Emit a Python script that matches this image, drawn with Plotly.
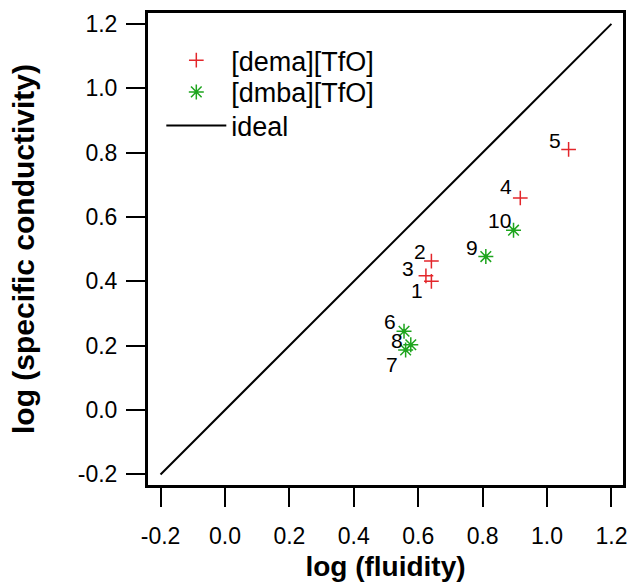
import plotly.graph_objects as go

# [dema][TfO] samples 1-5
dema_ids = ["1", "2", "3", "4", "5"]
dema_fluidity = [0.641, 0.641, 0.624, 0.917, 1.067]
dema_conductivity = [0.400, 0.463, 0.417, 0.659, 0.810]

# [dmba][TfO] samples 6-10
dmba_ids = ["6", "7", "8", "9", "10"]
dmba_fluidity = [0.556, 0.561, 0.577, 0.810, 0.896]
dmba_conductivity = [0.245, 0.187, 0.203, 0.477, 0.559]

# ideal Walden line (slope 1)
ideal_x = [-0.2, 1.2]
ideal_y = [-0.2, 1.2]

tick_vals = [-0.2, 0.0, 0.2, 0.4, 0.6, 0.8, 1.0, 1.2]
tick_text = ["-0.2", "0.0", "0.2", "0.4", "0.6", "0.8", "1.0", "1.2"]

RED = "#e3262b"
GREEN = "#1ea51e"
FONT = "Liberation Sans, Arial, sans-serif"

# label placement relative to each marker, in screen pixels (dx right, dy down)
label_offsets = {
    "1": (-14, 9), "2": (-11, -10), "3": (-18, -7), "4": (-14, -12),
    "5": (-14, -9), "6": (-14, -10), "7": (-14, 15), "8": (-14, -4),
    "9": (-14, -9), "10": (-14, -10),
}

fig = go.Figure()

fig.add_trace(go.Scatter(
    x=dema_fluidity, y=dema_conductivity, mode="markers", name="[dema][TfO]",
    legend="legend",
    marker=dict(symbol="cross-thin", size=10.5, line=dict(color=RED, width=1.5), color=RED),
))
fig.add_trace(go.Scatter(
    x=dmba_fluidity, y=dmba_conductivity, mode="markers", name="[dmba][TfO]",
    legend="legend2",
    marker=dict(symbol="asterisk", size=12.5, line=dict(color=GREEN, width=1.5), color=GREEN),
))
# small dot at the centre of each asterisk
fig.add_trace(go.Scatter(
    x=dmba_fluidity, y=dmba_conductivity, mode="markers", showlegend=False,
    marker=dict(symbol="circle", size=4, color=GREEN), hoverinfo="skip",
))
fig.add_trace(go.Scatter(
    x=ideal_x, y=ideal_y, mode="lines", name="ideal",
    legend="legend3",
    line=dict(color="black", width=2),
))

for ids, xs, ys in ((dema_ids, dema_fluidity, dema_conductivity),
                    (dmba_ids, dmba_fluidity, dmba_conductivity)):
    for lab, xv, yv in zip(ids, xs, ys):
        dx, dy = label_offsets[lab]
        fig.add_annotation(
            x=xv, y=yv, xref="x", yref="y", text=lab, showarrow=False,
            xshift=dx, yshift=-dy, xanchor="center", yanchor="middle",
            borderpad=0,
            font=dict(family=FONT, size=21, color="black"),
        )

# frame round the plotting area
fig.add_shape(type="rect", xref="paper", yref="paper", x0=0, y0=0, x1=1, y1=1,
              line=dict(color="black", width=2), layer="above")

axis_common = dict(
    tickvals=tick_vals, ticktext=tick_text, ticks="outside", ticklen=19,
    tickwidth=2, tickcolor="black", showline=True, linecolor="black",
    linewidth=2, mirror=True, showgrid=False, zeroline=False,
    tickfont=dict(family=FONT, size=23, color="black"),
)

legend_style = dict(x=0.03, xanchor="left", yanchor="middle",
                    bgcolor="rgba(0,0,0,0)", itemwidth=60,
                    font=dict(family=FONT, size=27, color="black"))

fig.update_layout(
    width=636, height=586,
    margin=dict(l=147, r=9, t=12, b=96),
    paper_bgcolor="white", plot_bgcolor="white",
    font=dict(family=FONT, color="black"),
    xaxis=dict(range=[-0.242, 1.239], ticklabelstandoff=9,
               title=dict(text="<b>log (fluidity)</b>", font=dict(family=FONT, size=28), standoff=9),
               **axis_common),
    yaxis=dict(range=[-0.236, 1.237], ticklabelstandoff=4,
               title=dict(text="<b>log (specific conductivity)</b>", font=dict(family=FONT, size=30), standoff=34),
               **axis_common),
    legend=dict(y=0.8975, **legend_style),
    legend2=dict(y=0.8305, **legend_style),
    legend3=dict(y=0.7594, **legend_style),
    showlegend=True,
)

fig.write_html("out.html")
